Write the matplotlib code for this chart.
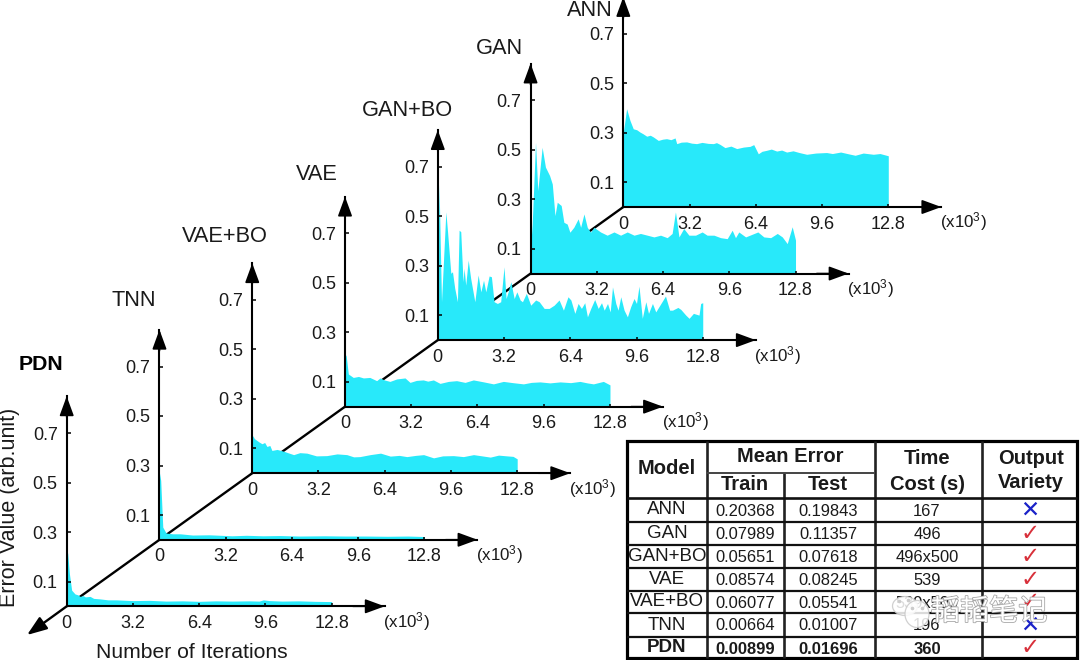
import matplotlib
matplotlib.use("Agg")
import matplotlib.pyplot as plt
import matplotlib.patheffects as pe
from matplotlib.patches import Ellipse

plt.rcParams['font.family'] = ['Liberation Sans', 'DejaVu Sans']
plt.rcParams['mathtext.fontset'] = 'custom'
plt.rcParams['mathtext.rm'] = 'Liberation Sans'
plt.rcParams['mathtext.default'] = 'regular'

# ---------- data ----------
x_ticks = [0, 3.2, 6.4, 9.6, 12.8]
x_tick_labels = ['0', '3.2', '6.4', '9.6', '12.8']
y_ticks = [0.1, 0.3, 0.5, 0.7]
y_tick_labels = ['0.1', '0.3', '0.5', '0.7']

pdn_x = [0, .05, .13, .24, .4, .55, .64, .8, .9, 1.13, 1.3, 1.6, 2.0, 2.4, 3.2, 4.0, 4.8, 5.6, 6.4, 7.2, 8.0, 8.8, 9.3, 9.5, 9.8, 10.4, 11.2, 12.0, 12.8]
pdn_y = [.23, .213, .132, .065, .05, .046, .04, .043, .038, .04, .032, .03, .026, .026, .023, .024, .021, .022, .02, .022, .021, .022, .021, .026, .023, .021, .022, .02, .019]

tnn_x = [0, .06, .16, .32, .64, 1.0, 1.6, 2.4, 3.5, 4.2, 5.0, 5.8, 6.76, 8.0, 9.0, 10.0, 11.0, 12.0, 12.8]
tnn_y = [.27, .24, .051, .027, .024, .024, .019, .02, .016, .018, .016, .017, .015, .016, .015, .015, .014, .015, .013]

vaebo_x = [0, .03, .1, .23, .35, .47, .6, .71, .85, .95, 1.2, 1.51, 1.75, 2.0, 2.3, 2.64, 3.1, 3.6, 4.1, 4.57, 4.9, 5.2, 5.7, 6.2, 6.67, 7.1, 7.47, 7.9, 8.28, 8.76, 9.2, 9.72, 10.2, 10.69, 11.1, 11.5, 11.9, 12.3, 12.6, 12.8]
vaebo_y = [.14, .152, .14, .132, .125, .119, .124, .108, .112, .092, .096, .089, .082, .075, .083, .081, .07, .071, .078, .075, .066, .067, .075, .081, .069, .072, .067, .072, .075, .062, .07, .071, .067, .075, .07, .065, .073, .07, .068, .058]

vae_x = [0, .05, .16, .4, .65, .89, 1.2, 1.53, 1.69, 1.9, 2.17, 2.5, 2.9, 3.14, 3.45, 3.78, 4.0, 4.27, 4.59, 5.0, 5.39, 5.8, 6.2, 6.7, 7.17, 7.65, 8.1, 8.62, 9.0, 9.42, 9.9, 10.39, 10.9, 11.35, 11.7, 12.0, 12.48, 12.8]
vae_y = [.2, .21, .132, .118, .122, .116, .118, .105, .116, .108, .102, .112, .116, .098, .106, .108, .103, .108, .094, .102, .105, .098, .108, .1, .092, .102, .097, .092, .098, .1, .096, .1, .097, .102, .096, .092, .102, .088]

ganbo_x = [0, .06, .18, .39, .47, .63, .71, .82, .95, 1.03, 1.11, 1.22, 1.27, 1.35, 1.47, 1.59, 1.79, 1.95, 2.08, 2.21, 2.32, 2.48, 2.59, 2.72, 2.88, 3.04, 3.2, 3.3, 3.4, 3.53, 3.69, 3.82, 3.98, 4.09, 4.28, 4.49, 4.73, 4.9, 5.14, 5.38, 5.62, 5.86, 6.07, 6.29, 6.43, 6.62, 6.78, 6.94, 7.1, 7.23, 7.39, 7.58, 7.75, 7.91, 8.04, 8.2, 8.33, 8.44, 8.6, 8.71, 8.84, 9.0, 9.16, 9.32, 9.48, 9.6, 9.72, 9.88, 10.05, 10.18, 10.37, 10.53, 11.0, 11.2, 11.34, 11.6, 11.74, 11.98, 12.14, 12.35, 12.62, 12.7, 12.8]
ganbo_y = [.2, .63, .155, .518, .44, .27, .276, .209, .155, .444, .438, .236, .29, .222, .323, .249, .155, .263, .195, .242, .195, .259, .256, .155, .148, .155, .296, .168, .195, .236, .168, .195, .162, .155, .189, .141, .162, .155, .128, .128, .141, .162, .121, .175, .162, .108, .148, .128, .151, .094, .128, .164, .128, .151, .121, .148, .114, .215, .148, .121, .175, .121, .094, .135, .168, .148, .218, .088, .155, .108, .148, .114, .178, .121, .121, .132, .124, .101, .088, .108, .101, .148, .151]

gan_x = [0, .08, .24, .35, .56, .72, .92, 1.05, 1.18, 1.29, 1.48, 1.61, 1.77, 1.9, 2.09, 2.3, 2.42, 2.58, 2.74, 2.9, 3.06, 3.38, 3.7, 4.03, 4.35, 4.67, 5.0, 5.31, 5.64, 5.96, 6.28, 6.6, 6.84, 7.0, 7.17, 7.4, 7.65, 7.97, 8.29, 8.53, 8.86, 9.18, 9.5, 9.74, 9.9, 10.06, 10.39, 10.98, 11.27, 11.6, 11.92, 12.16, 12.4, 12.64, 12.8]
gan_y = [.1, .2, .53, .335, .51, .43, .396, .362, .234, .288, .275, .207, .2, .167, .187, .221, .187, .241, .187, .167, .187, .168, .155, .168, .155, .168, .155, .162, .155, .148, .155, .145, .162, .249, .148, .182, .155, .155, .168, .155, .155, .145, .141, .175, .145, .168, .148, .168, .148, .145, .162, .148, .121, .189, .135]

ann_x = [0, .03, .16, .32, .48, .65, .8, .95, 1.13, 1.3, 1.45, 1.69, 1.9, 2.09, 2.3, 2.5, 2.58, 2.8, 3.06, 3.3, 3.54, 3.8, 4.1, 4.35, 4.5, 4.67, 4.91, 5.2, 5.48, 5.8, 6.12, 6.3, 6.52, 6.7, 6.92, 7.15, 7.41, 7.65, 7.89, 8.2, 8.5, 8.86, 9.3, 9.82, 10.1, 10.5, 10.87, 11.2, 11.59, 12.08, 12.4, 12.8]
ann_y = [.3, .32, .397, .35, .316, .312, .303, .296, .286, .29, .283, .269, .274, .276, .272, .279, .256, .262, .263, .258, .256, .261, .257, .256, .26, .253, .24, .246, .236, .242, .245, .252, .215, .225, .229, .234, .226, .23, .222, .227, .22, .213, .218, .22, .216, .222, .215, .209, .218, .213, .216, .207]

panel_names = ['PDN', 'TNN', 'VAE+BO', 'VAE', 'GAN+BO', 'GAN', 'ANN']
panel_x = [pdn_x, tnn_x, vaebo_x, vae_x, ganbo_x, gan_x, ann_x]
panel_y = [pdn_y, tnn_y, vaebo_y, vae_y, ganbo_y, gan_y, ann_y]

table_models = ['ANN', 'GAN', 'GAN+BO', 'VAE', 'VAE+BO', 'TNN', 'PDN']
table_train = ['0.20368', '0.07989', '0.05651', '0.08574', '0.06077', '0.00664', '0.00899']
table_test = ['0.19843', '0.11357', '0.07618', '0.08245', '0.05541', '0.01007', '0.01696']
table_time = ['167', '496', '496x500', '539', '539x500', '196', '360']
table_variety = [False, True, True, True, True, False, True]

# ---------- layout (pixels) ----------
W, H = 1080, 660
FILL = '#28E9FA'
INK = '#1a1a1a'
fig = plt.figure(figsize=(W / 100, H / 100), dpi=100, facecolor='white')

def overlay(z):
    a = fig.add_axes([0, 0, 1, 1], zorder=z)
    a.set_xlim(0, W)
    a.set_ylim(H, 0)
    a.axis('off')
    a.patch.set_visible(False)
    return a

AX_W, AX_H = 318, 210        # axes size, px
PX_X, PX_Y = 20.7, 247.5     # px per data unit
ORIG_X0, ORIG_Y0, STEP_X, STEP_Y = 66.7, 606.3, 92.77, -66.55
title_pos = [(41, 364), (134, 301), (225, 236), (317, 174), (407, 111), (499, 48), (590, 10)]
HEAD = '-|>,head_length=1.2,head_width=0.44'

# depth axis, behind every panel
back = overlay(0)
end_x = ORIG_X0 + 6 * STEP_X
end_y = ORIG_Y0 + 6 * STEP_Y
back.plot([ORIG_X0, end_x], [ORIG_Y0, end_y], color='black', lw=1.7, solid_capstyle='butt')
back.annotate('', xy=(27, 635), xytext=(ORIG_X0, ORIG_Y0),
              arrowprops=dict(arrowstyle=HEAD, color='black', lw=1.7, mutation_scale=10,
                              shrinkA=0, shrinkB=0))

for i, (name, xs, ys) in enumerate(zip(panel_names, panel_x, panel_y)):
    ox = ORIG_X0 + i * STEP_X
    oy = ORIG_Y0 + i * STEP_Y
    ax = fig.add_axes([ox / W, (H - oy) / H, AX_W / W, AX_H / H], zorder=10 + (6 - i))
    ax.patch.set_visible(False)
    ax.set_xlim(0, AX_W / PX_X)
    ax.set_ylim(0, AX_H / PX_Y)
    ax.fill_between(xs, 0, ys, color=FILL, lw=0, zorder=1)
    for s in ('top', 'right'):
        ax.spines[s].set_visible(False)
    for s in ('left', 'bottom'):
        ax.spines[s].set_linewidth(1.5)
        ax.spines[s].set_zorder(3)
    ax.set_xticks(x_ticks, x_tick_labels)
    ax.set_yticks(y_ticks, y_tick_labels)
    ax.tick_params(axis='x', direction='in', length=2.5, width=1.1, pad=6.2, labelsize=13, labelcolor=INK)
    ax.tick_params(axis='y', direction='in', length=3, width=1.1, pad=6.5, labelsize=13, labelcolor=INK)
    for tip, tail in [((1, 0), (0.9, 0)), ((0, 1), (0, 0.9))]:
        ax.annotate('', xy=tip, xytext=tail, xycoords='axes fraction', textcoords='axes fraction',
                    annotation_clip=False, zorder=4,
                    arrowprops=dict(arrowstyle=HEAD, color='black', lw=1.2, mutation_scale=10,
                                    shrinkA=0, shrinkB=0))
    ax.text(340 / AX_W, -15 / AX_H, '(x10$^3$)', transform=ax.transAxes, ha='center', va='center',
            fontsize=12.2, color=INK)
    tx_, ty_ = title_pos[i]
    ax.text((tx_ - ox) / AX_W, (oy - ty_) / AX_H, name, transform=ax.transAxes, ha='center', va='center',
            fontsize=15.3 if i == 0 else 15.7, color=INK if i else 'black', fontweight='bold' if i == 0 else 'normal')

# axis titles + table overlay
top = overlay(40)
top.text(192, 652, 'Number of Iterations', ha='center', va='center', fontsize=15.2, color=INK)
top.text(10, 507, 'Error Value (arb.unit)', ha='center', va='center', rotation=90, fontsize=15.5, color=INK)

# table frame
col_lines = [707, 784, 875, 982]
row_lines = [498, 522, 545, 568, 591, 613, 637]
T_L, T_R, T_T, T_B = 627, 1077, 441, 658
top.add_patch(plt.Rectangle((T_L, T_T), T_R - T_L, T_B - T_T, fc='white', ec='black', lw=2.3, zorder=1))
for c in col_lines:
    y0 = 473 if c == 784 else T_T
    top.plot([c, c], [y0, T_B], color='#222222', lw=1.9, zorder=2, solid_capstyle='butt')
for r in row_lines:
    top.plot([T_L, T_R], [r, r], color='#111111', lw=1.6 if r != 498 else 1.9, zorder=2, solid_capstyle='butt')
top.plot([707, 875], [473, 473], color='#444444', lw=1.4, zorder=2, solid_capstyle='butt')

def tx(x, y, s, size=11.9, bold=False, **kw):
    top.text(x, y, s, ha='center', va='center', fontsize=size, color=kw.pop('color', INK),
             fontweight='bold' if bold else 'normal', zorder=3, **kw)

for x, y, s in [(667, 468, 'Model'), (790, 457, 'Mean Error'), (745, 485, 'Train'), (828, 485, 'Test'),
                (927, 458, 'Time'), (927, 484, 'Cost (s)'), (1031, 459, 'Output'), (1031, 483, 'Variety')]:
    tx(x, y, s, 14.5, True)

row_centres = [510, 533.5, 556.5, 579.5, 602, 625, 648]
for k, yc in enumerate(row_centres):
    b = table_models[k] == 'PDN'
    tx(667, yc, table_models[k], 13.5, b)
    tx(745, yc + 1, table_train[k], 11.9, b)
    tx(828, yc + 1, table_test[k], 11.9, b)
    tx(927, yc + 1, table_time[k], 11.9, b)
    if table_variety[k]:
        tx(1030, yc, '\u2713', 16.5, False, color='#D8303A', family='DejaVu Sans')
    else:
        tx(1030, yc, '\u2715', 16.5, False, color='#1A22C8', family='DejaVu Sans')

# watermark
for (cx, cy, w, h) in [(905, 606, 25, 19), (917, 614, 24, 27)]:
    top.add_patch(Ellipse((cx, cy), w, h, fc='white', ec='#c8c8c8', lw=0.9, alpha=0.85, zorder=5))
for (cx, cy) in [(899, 601), (908, 600), (912, 608), (922, 608)]:
    top.plot(cx, cy, 'o', ms=1.6, color='#cccccc', zorder=6)
top.text(989, 612, '韬韬笔记', ha='center', va='center', fontsize=21, color='white', zorder=6,
         family=['Noto Sans CJK SC', 'DejaVu Sans'],
         path_effects=[pe.withStroke(linewidth=1.2, foreground='#a8a8a8')])

fig.savefig('out.png', dpi=100, facecolor='white')
